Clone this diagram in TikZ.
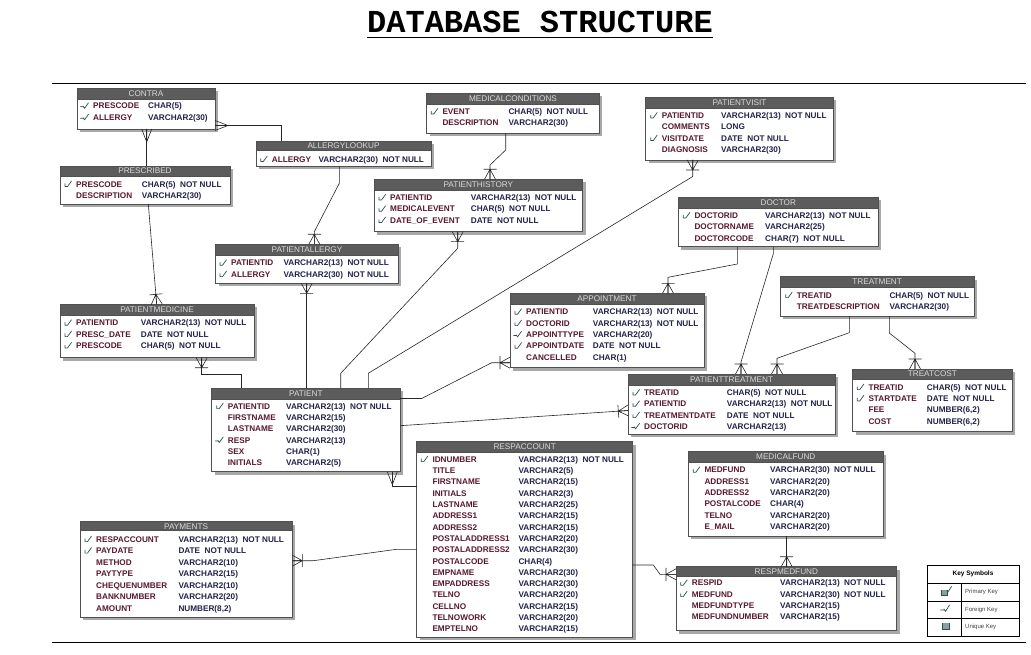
\documentclass[tikz,border=0pt]{standalone}
\usepackage{fontspec}
\setmainfont{Liberation Sans}
\newfontfamily\monof{Liberation Mono}
\definecolor{hdrc}{HTML}{5C5C5C}
\definecolor{hdrt}{HTML}{D9D9D9}
\definecolor{bordc}{HTML}{505050}
\definecolor{shadc}{HTML}{A8A8A8}
\definecolor{namec}{HTML}{5A1830}
\definecolor{typec}{HTML}{22224A}
\definecolor{keyc}{HTML}{2E4E50}
\tikzset{
 tbox/.style={draw=bordc, fill=white, line width=0.8pt, inner sep=0pt, outer sep=0pt},
 htitle/.style={font=\fontsize{8.2}{9}\selectfont, text=hdrt, inner sep=0pt},
 fname/.style={anchor=base west, inner sep=0pt, font=\fontsize{8.2}{9}\selectfont\bfseries, text=namec},
 ftype/.style={anchor=base west, inner sep=0pt, font=\fontsize{8.2}{9}\selectfont\bfseries, text=typec},
 conn/.style={draw=black!85, line width=0.6pt},
 keyline/.style={keyc, line width=0.7pt, line cap=round, line join=round},
 legtxt/.style={inner sep=0pt, font=\fontsize{6}{7}\selectfont, text=black!75, anchor=west},
}
\newcounter{fc}
\newcommand\notnull{\hspace{4.5pt}NOT NULL}
\newcommand\etable[7]{%
 \fill[shadc] (#2+3,#3+3) rectangle (#4+3,#5+3);
 \node[tbox, minimum width=#4pt-#2pt, minimum height=#5pt-#3pt, anchor=north west] (#1) at (#2,#3) {};
 \filldraw[fill=hdrc, draw=bordc, line width=0.8pt] (#2,#3) rectangle (#4,#6);
 \node[htitle] (#1-t) at ({(#2+#4)/2},{(#3+#6)/2}) {#7};}
\newcommand\pkm[2]{\draw[keyline] (#1-4,#2-0.5) -- (#1-4,#2+2.3) -- (#1-1.5,#2+2.3) -- (#1+2.5,#2-3.2);}
\newcommand\fkm[2]{\draw[keyline] (#1-5.5,#2+0.8) -- (#1-3,#2+0.8) (#1-2.8,#2+0.2) -- (#1-1.5,#2+2.3) -- (#1+2.5,#2-3.2);}
\newcommand\fldn[5]{\stepcounter{fc}\node[fname] (n\arabic{fc}) at (#1,#3+2.9) {#4};\node[ftype] (t\arabic{fc}) at (#2,#3+2.9) {#5};}
\newcommand\fldp[5]{\pkm{#1-7}{#3}\fldn{#1}{#2}{#3}{#4}{#5}}
\newcommand\fldf[5]{\fkm{#1-7}{#3}\fldn{#1}{#2}{#3}{#4}{#5}}
\newcommand\crowbar[2]{\begin{scope}[shift={#1},rotate=#2]\draw[conn] (0,-5.5)--(10,0) (0,0)--(10,0) (0,5.5)--(10,0) (10,-6.5)--(10,6.5);\end{scope}}
\newcommand\crowf[2]{\begin{scope}[shift={#1},rotate=#2]\draw[conn] (0,-5)--(13,0) (0,0)--(13,0) (0,5)--(13,0);\end{scope}}
\begin{document}
\begin{tikzpicture}[x=1pt,y=-1pt]
\useasboundingbox (0,0) rectangle (1031,655);
% title and rules
\node[font=\monof\bfseries\fontsize{32}{34}\selectfont, inner sep=0pt, anchor=base] (title) at (540,33) {DATABASE STRUCTURE};
\draw[line width=1.8pt] ([yshift=-4.5pt]title.base west) -- ([yshift=-4.5pt]title.base east);
\draw[line width=0.9pt] (52,83) -- (1026,83);
\draw[line width=0.9pt] (52,642) -- (1026,642);

% CONTRA
\etable{contra}{77}{88}{215}{129}{99}{CONTRA}
\fldf{93}{148}{106}{PRESCODE}{CHAR(5)}
\fldf{93}{148}{117.5}{ALLERGY}{VARCHAR2(30)}
% PRESCRIBED
\etable{prescribed}{60}{166}{230}{204}{176}{PRESCRIBED}
\fldp{76}{141.7}{184.3}{PRESCODE}{CHAR(5)\notnull}
\fldn{76}{141.7}{195.7}{DESCRIPTION}{VARCHAR2(30)}
% ALLERGYLOOKUP
\etable{allergylookup}{256}{141}{431}{166}{150.7}{ALLERGYLOOKUP}
\fldp{271.7}{318.3}{159.3}{ALLERGY}{VARCHAR2(30)\notnull}
% MEDICALCONDITIONS
\etable{medicalconditions}{426.7}{93.3}{599.3}{133.3}{104}{MEDICALCONDITIONS}
\fldp{442.3}{508.3}{111.7}{EVENT}{CHAR(5)\notnull}
\fldn{442.3}{508.3}{122.7}{DESCRIPTION}{VARCHAR2(30)}
% PATIENTHISTORY
\etable{patienthistory}{374}{179.3}{582.7}{231.7}{190}{PATIENTHISTORY}
\fldp{390}{470.7}{197.7}{PATIENTID}{VARCHAR2(13)\notnull}
\fldp{390}{470.7}{209}{MEDICALEVENT}{CHAR(5)\notnull}
\fldp{390}{470.7}{220.3}{DATE\_OF\_EVENT}{DATE\notnull}
% PATIENTVISIT
\etable{patientvisit}{645.7}{97.3}{833.3}{160}{108.3}{PATIENTVISIT}
\fldp{661.7}{721}{115.7}{PATIENTID}{VARCHAR2(13)\notnull}
\fldn{661.7}{721}{127}{COMMENTS}{LONG}
\fldp{661.7}{721}{138.3}{VISITDATE}{DATE\notnull}
\fldn{661.7}{721}{149.7}{DIAGNOSIS}{VARCHAR2(30)}
% DOCTOR
\etable{doctor}{678.3}{197.3}{878.3}{246.7}{208.3}{DOCTOR}
\fldp{694.3}{765}{215.7}{DOCTORID}{VARCHAR2(13)\notnull}
\fldn{694.3}{765}{227}{DOCTORNAME}{VARCHAR2(25)}
\fldn{694.3}{765}{238.3}{DOCTORCODE}{CHAR(7)\notnull}
% PATIENTALLERGY
\etable{patientallergy}{215.7}{244.3}{398.3}{283.3}{255}{PATIENTALLERGY}
\fldp{231}{283.3}{263}{PATIENTID}{VARCHAR2(13)\notnull}
\fldp{231}{283.3}{274.3}{ALLERGY}{VARCHAR2(30)\notnull}
% PATIENTMEDICINE
\etable{patientmedicine}{60}{304.3}{254}{357.7}{315}{PATIENTMEDICINE}
\fldp{76}{140.7}{323}{PATIENTID}{VARCHAR2(13)\notnull}
\fldp{76}{140.7}{334.3}{PRESC\_DATE}{DATE\notnull}
\fldp{76}{140.7}{345.7}{PRESCODE}{CHAR(5)\notnull}
% PATIENT
\etable{patient}{211.7}{388.3}{400}{471.7}{399}{PATIENT}
\fldp{227.7}{286}{406.3}{PATIENTID}{VARCHAR2(13)\notnull}
\fldn{227.7}{286}{417.6}{FIRSTNAME}{VARCHAR2(15)}
\fldn{227.7}{286}{428.9}{LASTNAME}{VARCHAR2(30)}
\fldf{227.7}{286}{440.2}{RESP}{VARCHAR2(13)}
\fldn{227.7}{286}{451.5}{SEX}{CHAR(1)}
\fldn{227.7}{286}{462.8}{INITIALS}{VARCHAR2(5)}
% APPOINTMENT
\etable{appointment}{510}{293.3}{704}{367.7}{304}{APPOINTMENT}
\fldp{526}{592.7}{312}{PATIENTID}{VARCHAR2(13)\notnull}
\fldp{526}{592.7}{323.3}{DOCTORID}{VARCHAR2(13)\notnull}
\fldf{526}{592.7}{334.6}{APPOINTTYPE}{VARCHAR2(20)}
\fldp{526}{592.7}{345.9}{APPOINTDATE}{DATE\notnull}
\fldn{526}{592.7}{357.2}{CANCELLED}{CHAR(1)}
% TREATMENT
\etable{treatment}{780}{276.7}{974.3}{316}{287.3}{TREATMENT}
\fldp{796.7}{889.3}{295.3}{TREATID}{CHAR(5)\notnull}
\fldn{796.7}{889.3}{306.7}{TREATDESCRIPTION}{VARCHAR2(30)}
% PATIENTTREATMENT
\etable{patienttreatment}{628.3}{374}{835}{434.3}{385}{PATIENTTREATMENT}
\fldp{644}{726.7}{392.7}{TREATID}{CHAR(5)\notnull}
\fldp{644}{726.7}{404}{PATIENTID}{VARCHAR2(13)\notnull}
\fldp{644}{726.7}{415.3}{TREATMENTDATE}{DATE\notnull}
\fldf{644}{726.7}{426.6}{DOCTORID}{VARCHAR2(13)}
% TREATCOST
\etable{treatcost}{852.7}{369}{1012}{431.7}{379.3}{TREATCOST}
\fldp{868.3}{926.7}{387.3}{TREATID}{CHAR(5)\notnull}
\fldp{868.3}{926.7}{398.6}{STARTDATE}{DATE\notnull}
\fldn{868.3}{926.7}{409.9}{FEE}{NUMBER(6,2)}
\fldn{868.3}{926.7}{421.2}{COST}{NUMBER(6,2)}
% RESPACCOUNT
\etable{respaccount}{416.7}{441.7}{632.7}{637.3}{452.3}{RESPACCOUNT}
\fldp{432.3}{518.3}{459.3}{IDNUMBER}{VARCHAR2(13)\notnull}
\fldn{432.3}{518.3}{470.6}{TITLE}{VARCHAR2(5)}
\fldn{432.3}{518.3}{481.9}{FIRSTNAME}{VARCHAR2(15)}
\fldn{432.3}{518.3}{493.2}{INITIALS}{VARCHAR2(3)}
\fldn{432.3}{518.3}{504.5}{LASTNAME}{VARCHAR2(25)}
\fldn{432.3}{518.3}{515.9}{ADDRESS1}{VARCHAR2(15)}
\fldn{432.3}{518.3}{527.2}{ADDRESS2}{VARCHAR2(15)}
\fldn{432.3}{518.3}{538.5}{POSTALADDRESS1}{VARCHAR2(20)}
\fldn{432.3}{518.3}{549.8}{POSTALADDRESS2}{VARCHAR2(30)}
\fldn{432.3}{518.3}{561.1}{POSTALCODE}{CHAR(4)}
\fldn{432.3}{518.3}{572.4}{EMPNAME}{VARCHAR2(30)}
\fldn{432.3}{518.3}{583.7}{EMPADDRESS}{VARCHAR2(30)}
\fldn{432.3}{518.3}{595}{TELNO}{VARCHAR2(20)}
\fldn{432.3}{518.3}{606.3}{CELLNO}{VARCHAR2(15)}
\fldn{432.3}{518.3}{617.6}{TELNOWORK}{VARCHAR2(20)}
\fldn{432.3}{518.3}{629}{EMPTELNO}{VARCHAR2(15)}
% MEDICALFUND
\etable{medicalfund}{688.3}{451.7}{883.3}{536}{462.3}{MEDICALFUND}
\fldp{704.3}{770}{470}{MEDFUND}{VARCHAR2(30)\notnull}
\fldn{704.3}{770}{481.3}{ADDRESS1}{VARCHAR2(20)}
\fldn{704.3}{770}{492.7}{ADDRESS2}{VARCHAR2(20)}
\fldn{704.3}{770}{504}{POSTALCODE}{CHAR(4)}
\fldn{704.3}{770}{515.3}{TELNO}{VARCHAR2(20)}
\fldn{704.3}{770}{526.7}{E\_MAIL}{VARCHAR2(20)}
% RESPMEDFUND
\etable{respmedfund}{676}{566.7}{896.7}{630.7}{576.7}{RESPMEDFUND}
\fldp{691.7}{780}{583}{RESPID}{VARCHAR2(13)\notnull}
\fldp{691.7}{780}{594.3}{MEDFUND}{VARCHAR2(30)\notnull}
\fldn{691.7}{780}{605.7}{MEDFUNDTYPE}{VARCHAR2(15)}
\fldn{691.7}{780}{617}{MEDFUNDNUMBER}{VARCHAR2(15)}
% PAYMENTS
\etable{payments}{80}{521.7}{292.3}{617.3}{530.7}{PAYMENTS}
\fldp{96}{178.3}{539.3}{RESPACCOUNT}{VARCHAR2(13)\notnull}
\fldp{96}{178.3}{550.8}{PAYDATE}{DATE\notnull}
\fldn{96}{178.3}{562.3}{METHOD}{VARCHAR2(10)}
\fldn{96}{178.3}{573.8}{PAYTYPE}{VARCHAR2(15)}
\fldn{96}{178.3}{585.3}{CHEQUENUMBER}{VARCHAR2(10)}
\fldn{96}{178.3}{596.8}{BANKNUMBER}{VARCHAR2(20)}
\fldn{96}{178.3}{608.3}{AMOUNT}{NUMBER(8,2)}

% ---------------- connectors
\draw[conn] ([yshift=-17pt]contra.east) -| ([xshift=25.7pt]allergylookup.north west);
\crowf{([yshift=-17pt]contra.east)}{0}
\draw[conn] ([xshift=69.7pt]contra.south west) -- ([xshift=86.7pt]prescribed.north west);
\crowf{([xshift=69.7pt]contra.south west)}{-90}
\draw[conn] ([xshift=88.3pt]prescribed.south west) -- ([xshift=96.7pt]patientmedicine.north west);
\crowbar{([xshift=96.7pt]patientmedicine.north west)}{95}
\draw[conn] ([xshift=83.3pt]allergylookup.south west) -- ++(0,17.3) -- ([xshift=98.6pt,yshift=12.6pt]patientallergy.north west) -- ([xshift=98.6pt]patientallergy.north west);
\crowbar{([xshift=98.6pt]patientallergy.north west)}{90}
\draw[conn] ([xshift=79pt]medicalconditions.south west) -- ++(0,16.7) -- ([xshift=116pt,yshift=14.3pt]patienthistory.north west) -- ([xshift=116pt]patienthistory.north west);
\crowbar{([xshift=116pt]patienthistory.north west)}{90}
\draw[conn] ([xshift=83.7pt]patienthistory.south west) -- ++(0,16.6) -- ([xshift=129pt,yshift=15pt]patient.north west) -- ([xshift=129pt]patient.north west);
\crowbar{([xshift=83.7pt]patienthistory.south west)}{-90}
\draw[conn] ([xshift=47pt]patientvisit.south west) -- ++(0,16.5) -- ([xshift=156.6pt,yshift=15pt]patient.north west) -- ([xshift=156.6pt]patient.north west);
\crowbar{([xshift=47pt]patientvisit.south west)}{-90}
\draw[conn] ([xshift=91pt]patientallergy.south west) -- ([xshift=95pt]patient.north west);
\crowbar{([xshift=91pt]patientallergy.south west)}{-90}
\draw[conn] ([xshift=141.7pt]patientmedicine.south west) |- ([xshift=30pt,yshift=14pt]patient.north west) -- ([xshift=30pt]patient.north west);
\crowbar{([xshift=141.7pt]patientmedicine.south west)}{-90}
\draw[conn] ([yshift=-10.2pt]patient.north east) -- ++(21.7,0) -- ([xshift=-18.3pt,yshift=5pt]appointment.south west) -- ([yshift=5pt]appointment.south west);
\crowbar{([yshift=5pt]appointment.south west)}{180}
\draw[conn] ([yshift=-37.4pt]patient.north east) -- ([yshift=-36.5pt]patienttreatment.north west);
\crowbar{([yshift=-36.5pt]patienttreatment.north west)}{184}
\draw[conn] ([xshift=-7.7pt]patient.south east) |- ([yshift=-44.8pt]respaccount.north west);
\crowf{([xshift=-7.7pt]patient.south east)}{-90}
\draw[conn] ([yshift=-39pt]payments.north east) -- ++(21,0) -- ([xshift=-20pt,yshift=-107.6pt]respaccount.north west) -- ([yshift=-107.6pt]respaccount.north west);
\crowbar{([yshift=-39pt]payments.north east)}{0}
\draw[conn] ([yshift=-123.3pt]respaccount.north east) -- ++(20.6,0) -- ([xshift=-16pt,yshift=-7.6pt]respmedfund.north west) -- ([yshift=-7.6pt]respmedfund.north west);
\crowbar{([yshift=-7.6pt]respmedfund.north west)}{180}
\draw[conn] ([xshift=98.4pt]medicalfund.south west) -- ([xshift=110.7pt]respmedfund.north west);
\crowbar{([xshift=110.7pt]respmedfund.north west)}{90}
\draw[conn] ([xshift=59pt]doctor.south west) -- ++(0,17.3) -- ([xshift=158pt,yshift=16pt]appointment.north west) -- ([xshift=158pt]appointment.north west);
\crowbar{([xshift=158pt]appointment.north west)}{90}
\draw[conn] ([xshift=95pt]doctor.south west) -- ++(0,7) -- ([xshift=112.7pt,yshift=12pt]patienttreatment.north west) -- ([xshift=112.7pt]patienttreatment.north west);
\crowbar{([xshift=112.7pt]patienttreatment.north west)}{90}
\draw[conn] ([xshift=69.3pt]treatment.south west) -- ++(0,16.7) -- ([xshift=148.7pt,yshift=15.7pt]patienttreatment.north west) -- ([xshift=148.7pt]patienttreatment.north west);
\crowbar{([xshift=148.7pt]patienttreatment.north west)}{90}
\draw[conn] ([xshift=109.3pt]treatment.south west) -- ++(0,17) -- ([xshift=62.3pt,yshift=15.7pt]treatcost.north west) -- ([xshift=62.3pt]treatcost.north west);
\crowbar{([xshift=62.3pt]treatcost.north west)}{90}

% ---------------- legend
\draw[line width=1pt] (927,565) rectangle (1019,636);
\draw[line width=0.7pt] (927,583) -- (1019,583) (927,601) -- (1019,601) (927,618) -- (1019,618) (961.5,583) -- (961.5,636);
\node[inner sep=0pt, font=\fontsize{6.5}{7}\selectfont\bfseries] (legtitle) at (973,574) {Key Symbols};
\node[legtxt] (legpk) at (965,592) {Primary Key};
\node[legtxt] (legfk) at (965,609.5) {Foreign Key};
\node[legtxt] (leguk) at (965,627) {Unique Key};
\filldraw[fill=keyc!55!white, draw=keyc, line width=0.8pt] (941.5,589.5) -- (941.5,595.5) -- (947.5,595.5) -- (947.5,589.5);
\draw[keyline] (946.5,590.5) -- (948,592) -- (951.5,586.5);
\draw[keyline] (940.5,610) -- (944.5,610) (944,609) -- (945.5,611.5) -- (949.5,605);
\filldraw[fill=keyc!55!white, draw=keyc, line width=0.8pt] (942.5,623) -- (942.5,629.5) -- (949,629.5) -- (949,623);
\end{tikzpicture}
\end{document}
